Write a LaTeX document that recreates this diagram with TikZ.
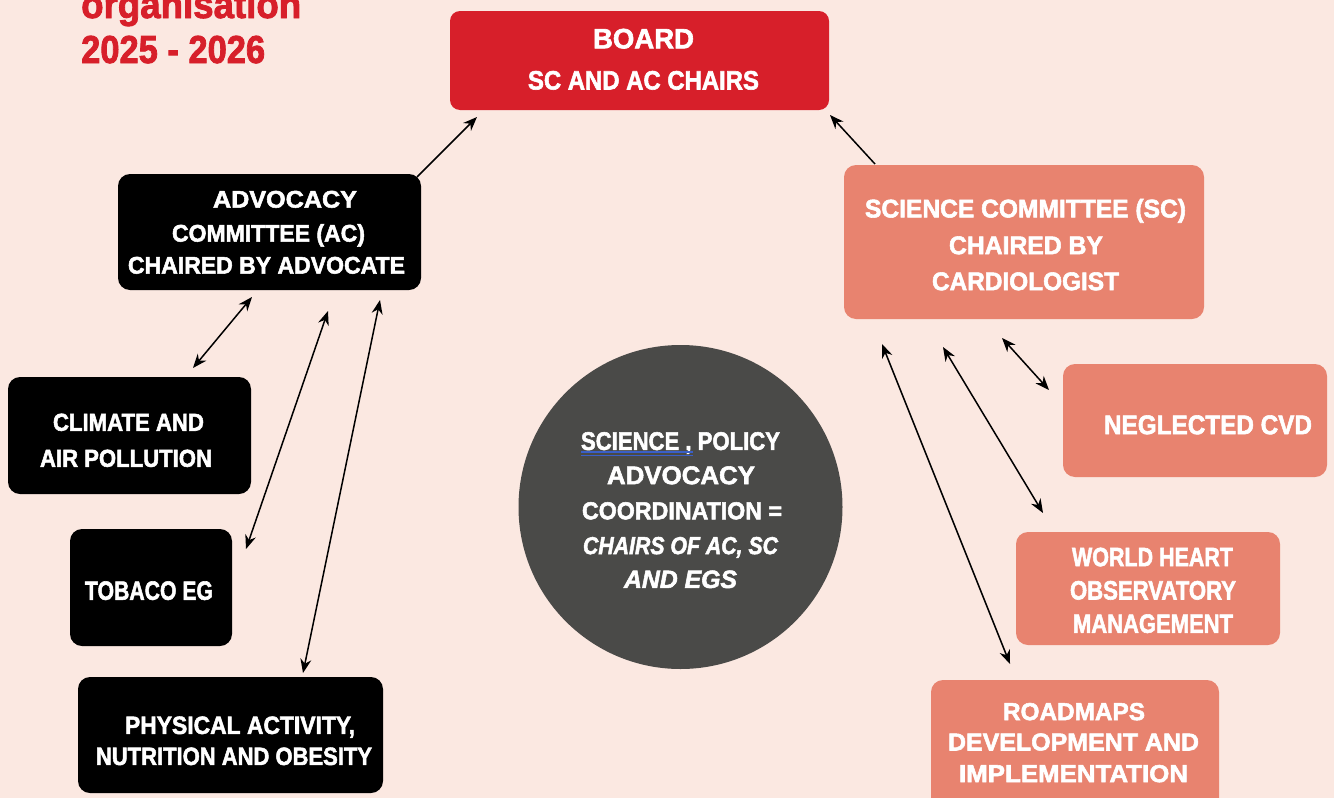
\documentclass[tikz,border=0pt]{standalone}
\usepackage{fontspec}
\setmainfont{Liberation Sans}[BoldFeatures={FakeBold=2.2},BoldItalicFeatures={FakeBold=2.2}]
\usepackage{graphicx}
\usetikzlibrary{arrows.meta}
\definecolor{bg}{HTML}{FBE8E1}
\definecolor{boardred}{HTML}{D71F2A}
\definecolor{salmon}{HTML}{E8836F}
\definecolor{disc}{HTML}{4A4A48}
\definecolor{spell}{HTML}{3A5FC8}
\newcommand\tline[5]{\node[txt,font=\bfseries\fontsize{#3}{#3}\selectfont,yshift={-0.358*#3pt}] (#1) at (#2) {\resizebox{#4pt}{\height}{#5}};}
\begin{document}
\begin{tikzpicture}[x=1pt,y=-1pt,
  box/.style={rectangle, rounded corners=12pt, inner sep=0pt, draw=none},
  txt/.style={anchor=base, inner sep=0pt, text=white},
  ttl/.style={anchor=base west, inner sep=0pt, text=boardred, font=\bfseries\fontsize{39}{39}\selectfont},
  arr/.style={-{Stealth[length=14pt,width=11pt]}, line width=1.5pt, black},
  darr/.style={{Stealth[length=14pt,width=11pt]}-{Stealth[length=14pt,width=11pt]}, line width=1.5pt, black}]
\useasboundingbox (0,0) rectangle (1334,798);
\clip (0,0) rectangle (1334,798);
\fill[bg] (0,0) rectangle (1334,798);

% title
\node[ttl] (t1) at (81,18) {\resizebox{220pt}{\height}{organisation}};
\node[ttl] (t2) at (81,63) {\resizebox{184pt}{\height}{2025 - 2026}};

% boxes
\node[box, fill=boardred, minimum width=379pt, minimum height=99pt, rounded corners=10pt] (board) at (639.5,60.5) {};
\node[box, fill=black, minimum width=303pt, minimum height=116pt] (adv) at (269.5,232) {};
\node[box, fill=salmon, minimum width=360pt, minimum height=154pt] (sci) at (1024,242) {};
\node[box, fill=black, minimum width=243pt, minimum height=117pt] (clim) at (129.5,435.5) {};
\node[box, fill=black, minimum width=162pt, minimum height=117pt] (tob) at (151,587.5) {};
\node[box, fill=black, minimum width=305pt, minimum height=116pt] (phys) at (230.5,735) {};
\node[box, fill=salmon, minimum width=264pt, minimum height=113pt] (negl) at (1195,420.5) {};
\node[box, fill=salmon, minimum width=264pt, minimum height=113pt] (whm) at (1148,588.5) {};
\node[box, fill=salmon, minimum width=288pt, minimum height=135pt] (road) at (1075,747.5) {};
\node[circle, fill=disc, minimum size=324pt, inner sep=0pt] (coord) at (680.5,507) {};

% texts
\tline{boardA}{643.5,38.3}{28}{101}{BOARD}
\tline{boardB}{643.5,80}{26.5}{231}{SC AND AC CHAIRS}

\tline{advA}{285,199}{24}{144}{ADVOCACY}
\tline{advB}{268.5,233}{24}{193}{COMMITTEE (AC)}
\tline{advC}{266.5,265}{24}{277}{CHAIRED BY ADVOCATE}

\tline{sciA}{1025.5,208.3}{25.5}{321}{SCIENCE COMMITTEE (SC)}
\tline{sciB}{1026,245}{25.5}{154}{CHAIRED BY}
\tline{sciC}{1025.5,281}{25.5}{187}{CARDIOLOGIST}

\tline{climA}{128.5,422}{24.5}{151}{CLIMATE AND}
\tline{climB}{126,458}{24.5}{172}{AIR POLLUTION}

\tline{tobA}{149,590.3}{26.5}{128}{TOBACO EG}

\tline{physA}{240,725}{25}{230}{PHYSICAL ACTIVITY,}
\tline{physB}{234,756}{25}{276}{NUTRITION AND OBESITY}

\tline{neglA}{1208,424.5}{27}{208}{NEGLECTED CVD}

\tline{whmA}{1152.5,556.7}{26.5}{161}{WORLD HEART}
\tline{whmB}{1153,590}{26.5}{166}{OBSERVATORY}
\tline{whmC}{1153,623.3}{26.5}{160}{MANAGEMENT}

\tline{roadA}{1074,711.3}{24.5}{142}{ROADMAPS}
\tline{roadB}{1073.5,741.7}{24.5}{251}{DEVELOPMENT AND}
\tline{roadC}{1073.5,773.3}{24.5}{229}{IMPLEMENTATION}

\tline{cA}{680.5,440.8}{25.5}{199}{SCIENCE , POLICY}
\tline{cB}{681,475}{25.5}{148}{ADVOCACY}
\tline{cC}{682,510.5}{24.5}{200}{COORDINATION =}
\tline{cD}{680.5,545.3}{24.5}{195}{\itshape CHAIRS OF AC, SC}
\tline{cE}{680.5,579}{25}{113}{\itshape AND EGS}

% spell-check double underline
\coordinate (ulA) at (581,452);
\coordinate (ulB) at (693,452);
\coordinate (ulC) at (581,455.5);
\coordinate (ulD) at (693,455.5);
\draw[spell, line width=1.1pt] (ulA) -- (ulB);
\draw[spell, line width=1.1pt] (ulC) -- (ulD);

% connectors
\coordinate (a1s) at (417,177); \coordinate (a1e) at (477,117);
\coordinate (a2s) at (875,164); \coordinate (a2e) at (830,115);
\coordinate (a3s) at (252,297); \coordinate (a3e) at (193,368);
\coordinate (a4s) at (328,311); \coordinate (a4e) at (246,549);
\coordinate (a5s) at (380,300); \coordinate (a5e) at (303,673);
\coordinate (a6s) at (1002,338); \coordinate (a6e) at (1049,390);
\coordinate (a7s) at (943,347); \coordinate (a7e) at (1043,513);
\coordinate (a8s) at (882,344); \coordinate (a8e) at (1010,664);

\draw[arr] (a1s) -- (a1e);
\draw[arr] (a2s) -- (a2e);
\draw[darr] (a3s) -- (a3e);
\draw[darr] (a4s) -- (a4e);
\draw[darr] (a5s) -- (a5e);
\draw[darr] (a6s) -- (a6e);
\draw[darr] (a7s) -- (a7e);
\draw[darr] (a8s) -- (a8e);
\end{tikzpicture}
\end{document}
